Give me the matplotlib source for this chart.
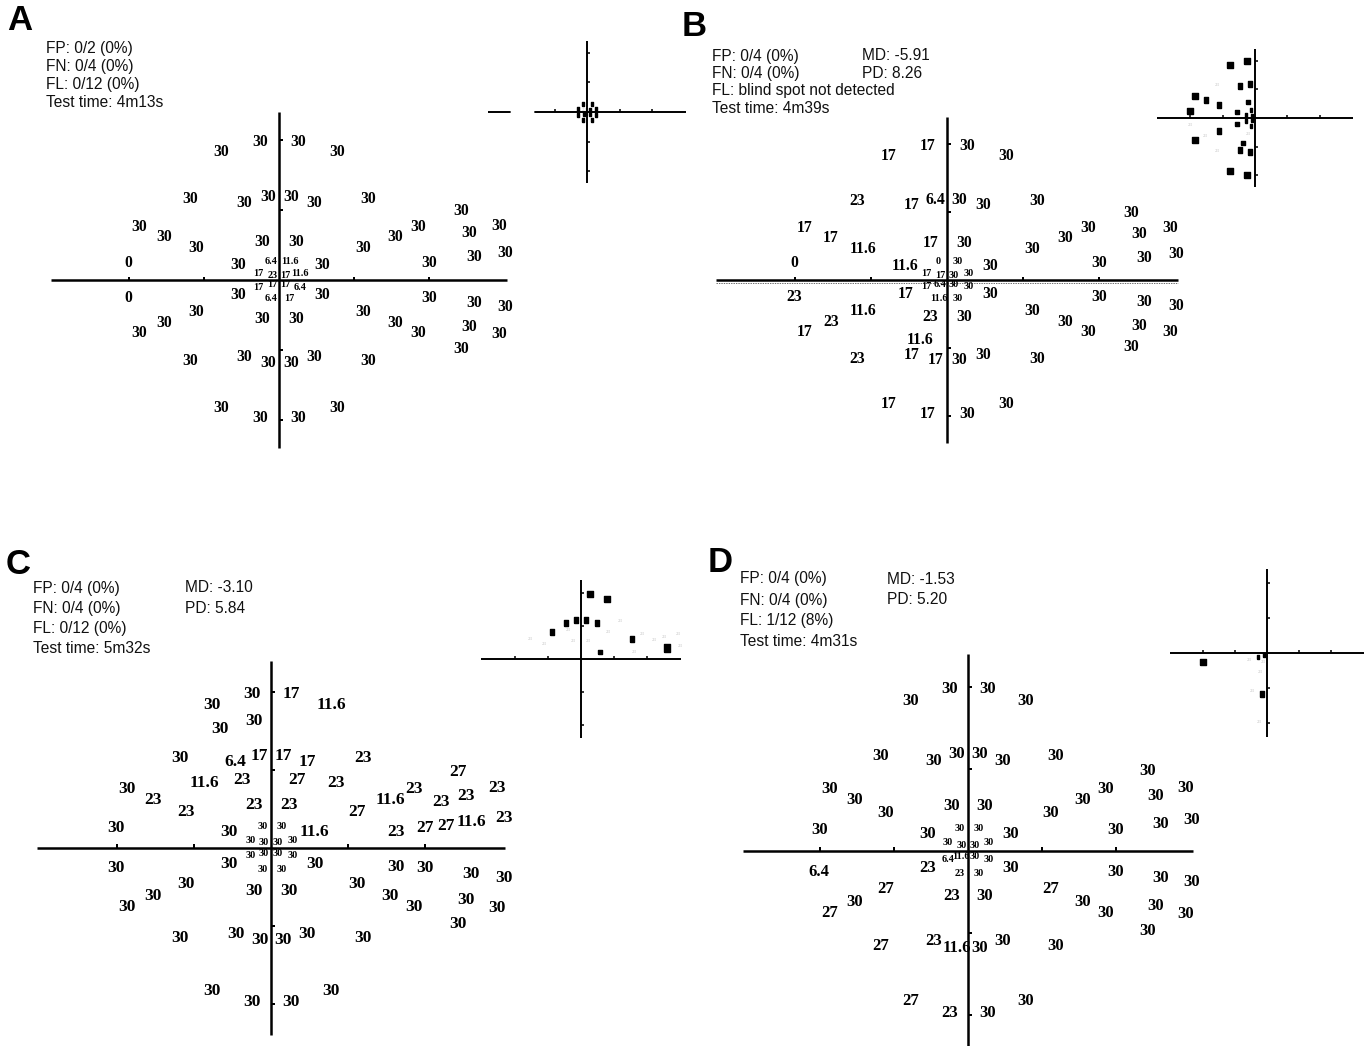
import matplotlib
matplotlib.use("Agg")
import matplotlib.pyplot as plt

W, H = 1369, 1046

# test locations of the upper hemifield in degrees; the lower hemifield mirrors them
loc_x = [-7.7, -2.5, 2.6, 7.8,
         -11.8, -4.6, -1.5, 1.6, 4.7, 11.9,
         24.3,
         -18.7, -15.3, 15.5, 18.6, 25.3, 29.4,
         -11.1, -2.2, 2.3, 11.2,
         -20.1, -5.5, 5.7, 20.0, 26.0, 30.2,
         -2.7, -0.9, 0.9, 2.8, -1.1, 1.4]
loc_y = [18.3, 19.7, 19.7, 18.3,
         11.6, 11.0, 11.8, 11.8, 11.0, 11.6,
         9.8,
         7.6, 6.2, 6.2, 7.6, 6.7, 7.7,
         4.6, 5.5, 5.5, 4.6,
         2.5, 2.1, 2.1, 2.5, 3.3, 3.8,
         1.0, 0.7, 0.7, 1.0, 2.7, 2.7]
N_BIG = 27  # the last six are the central points, printed small

# thresholds (dB), same order as the locations
a_upper = [30, 30, 30, 30, 30, 30, 30, 30, 30, 30, 30, 30, 30, 30, 30, 30, 30,
           30, 30, 30, 30, 0, 30, 30, 30, 30, 30, 17, 23, 17, 11.6, 6.4, 11.6]
a_lower = [30, 30, 30, 30, 30, 30, 30, 30, 30, 30, 30, 30, 30, 30, 30, 30, 30,
           30, 30, 30, 30, 0, 30, 30, 30, 30, 30, 17, 17, 17, 6.4, 6.4, 17]

b_upper = [17, 17, 30, 30, 23, 17, 6.4, 30, 30, 30, 30, 17, 17, 30, 30, 30, 30,
           11.6, 17, 30, 30, 0, 11.6, 30, 30, 30, 30, 17, 17, 30, 30, 0, 30]
b_lower = [17, 17, 30, 30, 23, 17, 17, 30, 30, 30, 30, 17, 23, 30, 30, 30, 30,
           11.6, 23, 30, 30, 23, 17, 30, 30, 30, 30, 17, 6.4, 30, 30, 11.6, 30]
b_extra_x = [-3.6]
b_extra_y = [-8.8]
b_extra_v = [11.6]

c_upper = [30, 30, 17, 11.6, 30, 6.4, 17, 17, 17, 23, 27, 30, 23, 11.6, 23, 23, 23,
           23, 23, 23, 27, 30, 30, 11.6, 27, 11.6, 23, 30, 30, 30, 30, 30, 30]
c_lower = [30] * 33
c_extra_x = [-2.2, -6.6, -8.7, -3.8, 3.4, 8.4, 22.1, 16.2, 22.7, 16.2]
c_extra_y = [16.3, 15.3, 8.3, 8.7, 8.7, 8.3, 5.9, 2.1, 2.8, -2.4]
c_extra_v = [30, 30, 11.6, 23, 27, 23, 23, 23, 27, 30]

d_upper = [30] * 33
d_lower = [27, 23, 30, 30, 27, 23, 11.6, 30, 30, 30, 30, 27, 30, 30, 30, 30, 30,
           27, 23, 30, 27, 6.4, 23, 30, 30, 30, 30, 6.4, 11.6, 30, 30, 23, 30]

hdr_a = ["FP: 0/2 (0%)", "FN: 0/4 (0%)", "FL: 0/12 (0%)", "Test time: 4m13s"]
idx_a = []
hdr_b = ["FP: 0/4 (0%)", "FN: 0/4 (0%)", "FL: blind spot not detected", "Test time: 4m39s"]
idx_b = ["MD: -5.91", "PD: 8.26"]
hdr_c = ["FP: 0/4 (0%)", "FN: 0/4 (0%)", "FL: 0/12 (0%)", "Test time: 5m32s"]
idx_c = ["MD: -3.10", "PD: 5.84"]
hdr_d = ["FP: 0/4 (0%)", "FN: 0/4 (0%)", "FL: 1/12 (8%)", "Test time: 4m31s"]
idx_d = ["MD: -1.53", "PD: 5.20"]

panels = [
    dict(tag="A", up=a_upper, lo=a_lower, ex=([], [], []), hdr=hdr_a, idx=idx_a,
         letter=(20, 21), text=(46, 49, 17.7, 0), fs=11.3,
         main=(279, 280, 7.5, 7.0), inset=(587, 112, 3.25, 2.95), blind=True),
    dict(tag="B", up=b_upper, lo=b_lower, ex=(b_extra_x, b_extra_y, b_extra_v),
         hdr=hdr_b, idx=idx_b, letter=(694, 27), text=(712, 56, 17.5, 862), fs=11.3,
         main=(947, 280, 7.6, 6.8), inset=(1255, 118, 3.23, 2.87), blind=False),
    dict(tag="C", up=c_upper, lo=c_lower, ex=(c_extra_x, c_extra_y, c_extra_v),
         hdr=hdr_c, idx=idx_c, letter=(18, 564), text=(33, 588, 20.3, 185), fs=12.5,
         main=(271, 848, 7.7, 7.8), inset=(581, 659, 3.3, 3.3), blind=False),
    dict(tag="D", up=d_upper, lo=d_lower, ex=([], [], []), hdr=hdr_d, idx=idx_d,
         letter=(720, 562), text=(740, 579, 21.0, 887), fs=12,
         main=(968, 851, 7.4, 8.2), inset=(1267, 653, 3.2, 3.5), blind=False),
]

fig = plt.figure(figsize=(W / 100, H / 100), dpi=100)
fig.patch.set_facecolor("white")

SERIF = "Liberation Serif"
SANS = "Liberation Sans"
XR, YR = 33, 26


def field_axes(cx, cy, sx, sy):
    ax = fig.add_axes([(cx - XR * sx) / W, 1 - (cy + YR * sy) / H,
                       2 * XR * sx / W, 2 * YR * sy / H])
    ax.set_xlim(-XR, XR)
    ax.set_ylim(-YR, YR)
    ax.axis("off")
    return ax


def cross(ax, lw, tick_len):
    ax.plot([-30.4, 30.4], [0, 0], color="black", lw=lw, zorder=3, solid_capstyle="butt")
    ax.plot([0, 0], [-24, 24], color="black", lw=lw, zorder=3, solid_capstyle="butt")
    t = [-20, -10, 10, 20]
    ax.vlines(t, 0, tick_len, color="black", lw=lw * 0.8, zorder=3)
    ax.hlines(t, 0, tick_len, color="black", lw=lw * 0.8, zorder=3)


def all_points(p):
    xs = loc_x + loc_x + list(p["ex"][0])
    ys = loc_y + [-y for y in loc_y] + list(p["ex"][1])
    vs = list(p["up"]) + list(p["lo"]) + list(p["ex"][2])
    small = [i >= N_BIG for i in range(len(loc_x))] * 2 + [False] * len(p["ex"][2])
    return xs, ys, vs, small


rect = [(-0.75, -1), (0.75, -1), (0.75, 1), (-0.75, 1), (-0.75, -1)]

for p in panels:
    xs, ys, vs, small = all_points(p)

    # threshold map
    ax = field_axes(*p["main"])
    cross(ax, 1.8, 0.5)
    if p["tag"] == "B":
        ax.plot([-30.4, 30.4], [-0.4, -0.4], color="#333333", lw=0.5,
                dashes=(2, 1.5), zorder=2)
    for x, y, v, s in zip(xs, ys, vs, small):
        ax.text(x, y, f"{v:g}", ha="center", va="center", family=SERIF,
                weight="bold", fontsize=7.3 if s else p["fs"], zorder=2)

    # deficit inset
    ins = field_axes(*p["inset"])
    cross(ins, 1.4, 1.0)
    for x, y, v in zip(xs, ys, vs):
        ecc = (x ** 2 + y ** 2) ** 0.5
        if v <= 17:
            if p["blind"] and v == 0:
                ins.plot(x, y, marker="s", ms=16, color="white", ls="none", zorder=4)
                continue
            side = 3.2 + 0.18 * ecc
            ins.plot(x, y, marker=rect, ms=side * 0.72, color="black", ls="none", zorder=4)
        elif v == 23:
            ins.text(x, y, f"{v:g}", ha="center", va="center", family=SERIF,
                     fontsize=3.5, color="#c4c4c4", zorder=4)

    # header block
    tx, ty, step, mx = p["text"]
    for k, line in enumerate(p["hdr"]):
        fig.text(tx / W, 1 - (ty + k * step) / H, line, ha="left", va="center",
                 family=SANS, fontsize=11.2, color="#111111")
    for k, line in enumerate(p["idx"]):
        fig.text(mx / W, 1 - (ty + k * step) / H, line, ha="left", va="center",
                 family=SANS, fontsize=11.2, color="#111111")

    lx, ly = p["letter"]
    fig.text(lx / W, 1 - ly / H, p["tag"], ha="center", va="center",
             family=SANS, weight="bold", fontsize=25)

plt.savefig("out.png", dpi=100, facecolor="white")
